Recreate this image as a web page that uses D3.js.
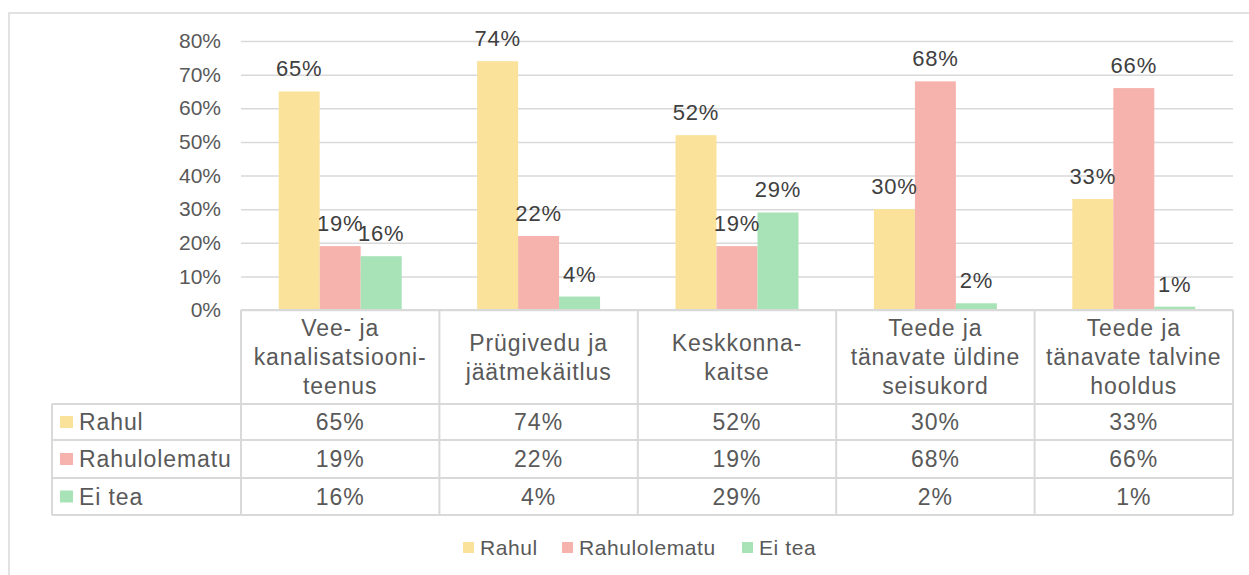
<!DOCTYPE html>
<html>
<head>
<meta charset="utf-8">
<script src="https://cdn.jsdelivr.net/npm/d3@7"></script>
<style>
  body { margin: 0; background: #fff; }
  text { font-family: "Liberation Sans", Arial, sans-serif; fill: #595959; }
</style>
</head>
<body>
<div id="chart"></div>
<script>
// data
var categories = [
    ["Vee- ja", "kanalisatsiooni-", "teenus"],
    ["Prügivedu ja", "jäätmekäitlus"],
    ["Keskkonna-", "kaitse"],
    ["Teede ja", "tänavate üldine", "seisukord"],
    ["Teede ja", "tänavate talvine", "hooldus"]
];
var seriesNames = ["Rahul", "Rahulolematu", "Ei tea"];
var rahul = [65, 74, 52, 30, 33];
var rahulolematu = [19, 22, 19, 68, 66];
var eiTea = [16, 4, 29, 2, 1];
var yTicks = [0, 10, 20, 30, 40, 50, 60, 70, 80];
var colors = ["#fbe29b", "#f6b3ae", "#a7e3b7"];

var seriesValues = [rahul, rahulolematu, eiTea];

var W = 1249, H = 575;
var plot = {left: 241, right: 1233, top: 41, bottom: 310};
var tableLeft = 52;
var headerBottom = 404;
var rowH = [36, 38, 37];

var svg = d3.select("#chart").append("svg")
    .attr("width", W)
    .attr("height", H);

// outer border
svg.append("rect")
    .attr("x", 9).attr("y", 13)
    .attr("width", 1260).attr("height", 600)
    .attr("fill", "none")
    .attr("stroke", "#d9d9d9")
    .attr("stroke-width", 1.5);

var catIdx = d3.range(categories.length);

var x = d3.scaleBand()
    .domain(catIdx)
    .range([plot.left, plot.right]);

var xInner = d3.scaleBand()
    .domain(d3.range(seriesNames.length))
    .range([0, x.bandwidth()])
    .paddingOuter(0.92);

var y = d3.scaleLinear()
    .domain([0, 80])
    .range([plot.bottom, plot.top]);

// grid + y axis
var yAxis = d3.axisLeft(y)
    .tickValues(yTicks)
    .tickSize(-(plot.right - plot.left))
    .tickPadding(20)
    .tickFormat(function (d) { return d + "%"; });

var gy = svg.append("g")
    .attr("transform", "translate(" + plot.left + ",0)")
    .call(yAxis);
gy.select(".domain").remove();
gy.selectAll(".tick line")
    .attr("stroke", "#d9d9d9")
    .attr("stroke-width", 1.5);
gy.selectAll(".tick text")
    .style("font-size", "21px")
    .attr("fill", "#595959");

// bars
var groups = svg.selectAll(".grp")
    .data(catIdx)
    .enter()
    .append("g")
    .attr("class", "grp")
    .attr("transform", function (d) { return "translate(" + x(d) + ",0)"; });

groups.selectAll("rect")
    .data(function (c) {
        return seriesValues.map(function (vals, s) { return {s: s, v: vals[c]}; });
    })
    .enter()
    .append("rect")
    .attr("x", function (d) { return xInner(d.s); })
    .attr("y", function (d) { return y(d.v); })
    .attr("width", xInner.bandwidth())
    .attr("height", function (d) { return plot.bottom - y(d.v); })
    .attr("fill", function (d) { return colors[d.s]; });

groups.selectAll(".lbl")
    .data(function (c) {
        return seriesValues.map(function (vals, s) { return {s: s, v: vals[c]}; });
    })
    .enter()
    .append("text")
    .attr("class", "lbl")
    .attr("x", function (d) { return xInner(d.s) + xInner.bandwidth() / 2; })
    .attr("y", function (d) { return y(d.v) - 15; })
    .attr("text-anchor", "middle")
    .style("font-size", "22px")
    .style("letter-spacing", "0.8px")
    .style("fill", "#404040")
    .text(function (d) { return d.v + "%"; });

// data table
var gridColor = "#d9d9d9";
var rowTops = [headerBottom];
rowH.forEach(function (h, i) { rowTops.push(rowTops[i] + h); });
var tableBottom = rowTops[rowTops.length - 1];

var tbl = svg.append("g");

// horizontal lines
tbl.append("line")
    .attr("x1", plot.left).attr("x2", plot.right)
    .attr("y1", plot.bottom).attr("y2", plot.bottom)
    .attr("stroke", gridColor).attr("stroke-width", 2);
rowTops.forEach(function (ty) {
    tbl.append("line")
        .attr("x1", tableLeft).attr("x2", plot.right)
        .attr("y1", ty).attr("y2", ty)
        .attr("stroke", gridColor).attr("stroke-width", 2);
});

// vertical lines
tbl.append("line")
    .attr("x1", tableLeft).attr("x2", tableLeft)
    .attr("y1", headerBottom).attr("y2", tableBottom)
    .attr("stroke", gridColor).attr("stroke-width", 2);
catIdx.concat([categories.length]).forEach(function (c) {
    var xx = c < categories.length ? x(c) : plot.right;
    tbl.append("line")
        .attr("x1", xx).attr("x2", xx)
        .attr("y1", plot.bottom).attr("y2", tableBottom)
        .attr("stroke", gridColor).attr("stroke-width", 2);
});

// category headers
var lineH = 29;
var headMid = (plot.bottom + headerBottom) / 2;
categories.forEach(function (lines, c) {
    var t = tbl.append("text")
        .attr("text-anchor", "middle")
        .style("font-size", "23px")
        .style("letter-spacing", "0.9px");
    var first = headMid + 8 - (lines.length - 1) * lineH / 2;
    lines.forEach(function (ln, i) {
        t.append("tspan")
            .attr("x", x(c) + x.bandwidth() / 2)
            .attr("y", first + i * lineH)
            .text(ln);
    });
});

// rows
seriesNames.forEach(function (name, s) {
    var mid = rowTops[s] + rowH[s] / 2;
    tbl.append("rect")
        .attr("x", 60).attr("y", mid - 6)
        .attr("width", 13).attr("height", 12)
        .attr("fill", colors[s]);
    tbl.append("text")
        .attr("x", 79).attr("y", mid + 8)
        .style("font-size", "23px")
        .style("letter-spacing", "0.9px")
        .text(name);
    catIdx.forEach(function (c) {
        tbl.append("text")
            .attr("x", x(c) + x.bandwidth() / 2)
            .attr("y", mid + 8)
            .attr("text-anchor", "middle")
            .style("font-size", "23px")
            .style("letter-spacing", "1px")
            .text(seriesValues[s][c] + "%");
    });
});

// legend
var legendX = [463, 562, 742];
var legend = svg.append("g");
seriesNames.forEach(function (name, s) {
    legend.append("rect")
        .attr("x", legendX[s]).attr("y", 542)
        .attr("width", 11).attr("height", 11)
        .attr("fill", colors[s]);
    legend.append("text")
        .attr("x", legendX[s] + 17).attr("y", 555)
        .style("font-size", "21px")
        .style("letter-spacing", "0.6px")
        .text(name);
});
</script>
</body>
</html>
